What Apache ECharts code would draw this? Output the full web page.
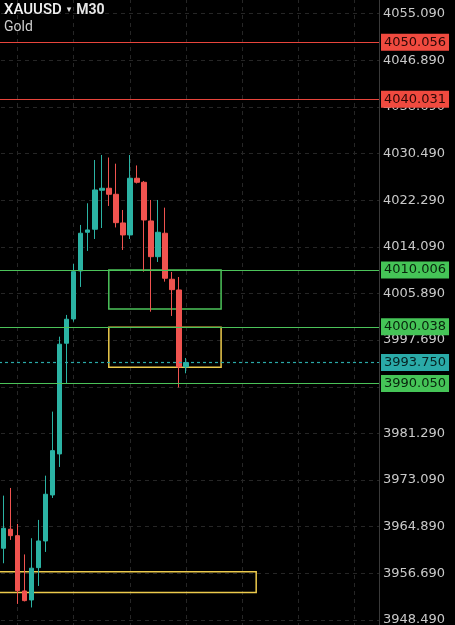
<!DOCTYPE html>
<html>
<head>
<meta charset="utf-8">
<title>XAUUSD M30</title>
<script src="https://cdn.jsdelivr.net/npm/echarts@6/dist/echarts.min.js"></script>
<style>
  html, body { margin: 0; padding: 0; background: #000; }
  #chart { width: 455px; height: 625px; }
</style>
</head>
<body>
<div id="chart"></div>
<script>
// 30 minute candles, [open, close, low, high]
const candles = [
  [3961.10, 3964.61, 3958.46, 3970.35],
  [3964.44, 3963.31, 3962.56, 3971.70],
  [3963.31, 3953.64, 3951.31, 3965.37],
  [3953.59, 3951.89, 3951.75, 3960.01],
  [3952.01, 3957.59, 3950.69, 3962.86],
  [3957.69, 3962.38, 3954.47, 3966.08],
  [3962.38, 3970.59, 3960.45, 3973.86],
  [3970.47, 3978.26, 3969.94, 3985.12],
  [3977.68, 3996.97, 3975.39, 3998.30],
  [3997.14, 4001.36, 3990.11, 4002.12],
  [4001.41, 4009.73, 4000.94, 4011.08],
  [4009.85, 4016.48, 4007.04, 4017.94],
  [4016.65, 4017.06, 4013.37, 4021.75],
  [4017.18, 4024.09, 4015.47, 4029.36],
  [4024.04, 4024.39, 4017.40, 4030.24],
  [4024.39, 4023.33, 4021.28, 4029.80],
  [4023.33, 4018.34, 4017.50, 4028.71],
  [4018.29, 4016.18, 4013.54, 4020.57],
  [4016.18, 4026.15, 4015.47, 4030.24],
  [4026.15, 4025.44, 4025.23, 4028.40],
  [4025.44, 4018.81, 4009.73, 4025.67],
  [4018.64, 4012.36, 4002.69, 4022.33],
  [4012.36, 4016.65, 4011.43, 4022.33],
  [4016.48, 4008.57, 4007.97, 4020.98],
  [4008.39, 4006.56, 4001.94, 4009.67],
  [4006.51, 3992.97, 3989.37, 4008.79],
  [3992.97, 3993.75, 3991.86, 3994.55]
]

// bar slots: one slot hidden left of the screen, the right part still empty
const slotCount = 55
const categories = Array.from({ length: slotCount }, (_, i) => 'b' + i)

// price axis
const priceMin = 3940.29
const priceMax = 4063.29
const priceStep = 8.2

// horizontal levels
const redLevels = [4050.056, 4040.031]
const greenLevels = [4010.006, 4000.038, 3990.050]
const lastPrice = 3993.750

// zones: [fromBar, toBar, top, bottom] (bar -1 is the hidden one)
const greenZones = [[15, 31, 4010.006, 4003.17]]
const yellowZones = [
  [15, 31, 3999.95, 3992.92],
  [-1, 36, 3956.98, 3953.33]
]

const UP = '#2bb3a4'
const DOWN = '#f0534f'
const RED_LINE = '#e8453c'
const GREEN_LINE = '#4cc35a'
const TEAL_LINE = '#2aa9a8'
const YELLOW = '#ecca4c'
const FONT = 'DejaVu Sans'

// series data sits one slot to the right of the hidden one
const seriesData = ['-'].concat(candles)

const levelLabel = (bg, fg) => ({
  show: true,
  position: 'end',
  distance: 2,
  formatter: '{b}',
  backgroundColor: bg,
  color: fg,
  fontFamily: FONT,
  fontSize: 13,
  lineHeight: 15,
  padding: [1, 3, 1, 3]
})

const levelLines = []
redLevels.forEach((v) => {
  levelLines.push({
    name: v.toFixed(3),
    yAxis: v,
    lineStyle: { color: RED_LINE, width: 1.2, type: 'solid' },
    label: levelLabel('#f04a3f', '#2a0806')
  })
})
greenLevels.forEach((v) => {
  levelLines.push({
    name: v.toFixed(3),
    yAxis: v,
    lineStyle: { color: GREEN_LINE, width: 1.2, type: 'solid' },
    label: levelLabel('#45c457', '#08240c')
  })
})
levelLines.push({
  name: lastPrice.toFixed(3),
  yAxis: lastPrice,
  lineStyle: { color: TEAL_LINE, width: 1.2, type: [3, 3] },
  label: levelLabel('#2aaaa8', '#062222')
})

const zoneAreas = []
greenZones.forEach((z) => {
  zoneAreas.push([
    { xAxis: z[0] + 1, yAxis: z[2], itemStyle: { color: 'rgba(0,0,0,0)', borderColor: GREEN_LINE, borderWidth: 1.5 } },
    { xAxis: z[1] + 1, yAxis: z[3] }
  ])
})
yellowZones.forEach((z) => {
  zoneAreas.push([
    { xAxis: z[0] + 1, yAxis: z[2], itemStyle: { color: 'rgba(0,0,0,0)', borderColor: YELLOW, borderWidth: 1.5 } },
    { xAxis: z[1] + 1, yAxis: z[3] }
  ])
})

const chart = echarts.init(document.getElementById('chart'))
chart.setOption({
  backgroundColor: '#000',
  animation: false,
  title: {
    text: '{a|XAUUSD} {b|▾} {c|M30}',
    subtext: 'Gold',
    left: 4,
    top: 1,
    itemGap: 1,
    padding: 0,
    textStyle: {
      rich: {
        a: { color: '#f2f2f2', fontFamily: 'Roboto', fontSize: 15, fontWeight: 500 },
        b: { color: '#e0e0e0', fontFamily: 'DejaVu Sans', fontSize: 9 },
        c: { color: '#e6e6e6', fontFamily: 'Roboto', fontSize: 14 }
      }
    },
    subtextStyle: { color: '#cfcfcf', fontFamily: 'Roboto', fontSize: 14 }
  },
  grid: {
    left: -7,
    right: 76,
    top: -33,
    bottom: -41.6,
    outerBoundsMode: 'none'
  },
  xAxis: {
    type: 'category',
    data: categories,
    boundaryGap: true,
    axisLine: { show: false },
    axisTick: { show: false },
    axisLabel: { show: false },
    splitLine: {
      show: true,
      alignWithLabel: true,
      interval: (index) => index % 8 === 3,
      lineStyle: { color: '#262626', type: [4, 4], width: 1 }
    }
  },
  yAxis: {
    type: 'value',
    position: 'right',
    scale: true,
    min: priceMin,
    max: priceMax,
    interval: priceStep,
    axisLine: { show: true, lineStyle: { color: '#3a3a3a', width: 1 } },
    axisTick: { show: false },
    axisLabel: {
      color: '#c9c9c9',
      fontFamily: FONT,
      fontSize: 13,
      margin: 4,
      formatter: (v) => v.toFixed(3)
    },
    splitLine: {
      show: true,
      lineStyle: { color: '#262626', type: [4, 4], width: 1 }
    }
  },
  series: [{
    name: 'XAUUSD',
    type: 'candlestick',
    data: seriesData,
    barWidth: 5,
    itemStyle: {
      color: UP,
      color0: DOWN,
      borderColor: UP,
      borderColor0: DOWN,
      borderWidth: 1
    },
    markLine: {
      silent: true,
      symbol: ['none', 'none'],
      data: levelLines
    },
    markArea: {
      silent: true,
      data: zoneAreas
    }
  }]
})
</script>
</body>
</html>
